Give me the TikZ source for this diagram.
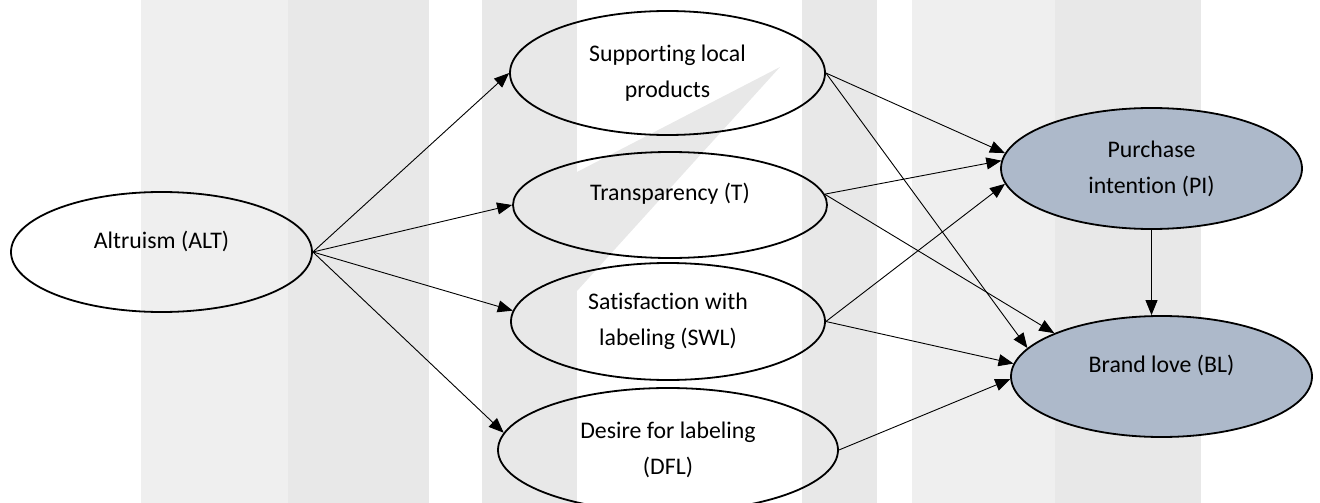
\documentclass[tikz,border=0pt]{standalone}
\usepackage{fontspec}
\setmainfont{Carlito}[Ligatures=NoCommon]
\usetikzlibrary{arrows.meta, shapes.geometric}
\definecolor{stripelight}{RGB}{239,239,239}
\definecolor{stripedark}{RGB}{232,232,232}
\definecolor{latentfill}{RGB}{173,185,202}
\newcommand{\upline}[1]{\raisebox{11pt}[\height][\depth]{#1}}

\begin{document}
\begin{tikzpicture}[x=1pt, y=-1pt, construct/.style={ellipse, draw, line width=1.8pt, inner sep=0pt, align=center, font=\fontsize{23.8}{36}\selectfont}, outcome/.style={construct, fill=latentfill}, path/.style={-{Triangle[length=15pt,width=12pt]}, line width=0.9pt}]

\useasboundingbox (0,0) rectangle (1320,503);
\fill[stripelight] (141,0) rectangle (288,503); \fill[stripedark] (288,0) rectangle (429,503);
\fill[stripedark] (482,0) rectangle (577,503); \fill[stripedark] (577,172) -- (780,67) -- (577,291) -- cycle;
\fill[stripedark] (802,0) rectangle (877,503);
\fill[stripelight] (912,0) rectangle (1055,503); \fill[stripedark] (1055,0) rectangle (1201,503);

\node[construct, minimum width=301pt, minimum height=120pt] (ALT) at (161.5,252) {\upline{Altruism (ALT)}};
\node[construct, minimum width=315pt, minimum height=124pt] (SLP) at (667.5,73) {Supporting local\\products};
\node[construct, minimum width=314pt, minimum height=106pt] (T) at (670,205) {\upline{Transparency (T)}};
\node[construct, minimum width=314pt, minimum height=117pt] (SWL) at (668,321.5) {Satisfaction with\\labeling (SWL)};
\node[construct, minimum width=340pt, minimum height=124pt] (DFL) at (668,450) {Desire for labeling\\(DFL)};
\node[outcome, minimum width=301pt, minimum height=121pt] (PI) at (1151.5,168.5) {Purchase\\intention (PI)};
\node[outcome, minimum width=301pt, minimum height=121pt] (BL) at (1161.5,376.5) {\upline{Brand love (BL)}};

\draw[path] (ALT.east) -- (SLP.west); \draw[path] (ALT.east) -- (T.west);
\draw[path] (ALT.east) -- (SWL.176); \draw[path] (ALT.east) -- (DFL.174);
\draw[path] (SLP.east) -- (PI.174); \draw[path] (SLP.east) -- (BL.168);
\draw[path] (T.4) -- (PI.177); \draw[path] (T.4) -- (BL.158);
\draw[path] (SWL.east) -- (PI.186); \draw[path] (SWL.east) -- (BL.175);
\draw[path] (DFL.east) -- (BL.181);
\draw[path] (PI.south) -- (PI.south |- BL.north);
\end{tikzpicture}
\end{document}
